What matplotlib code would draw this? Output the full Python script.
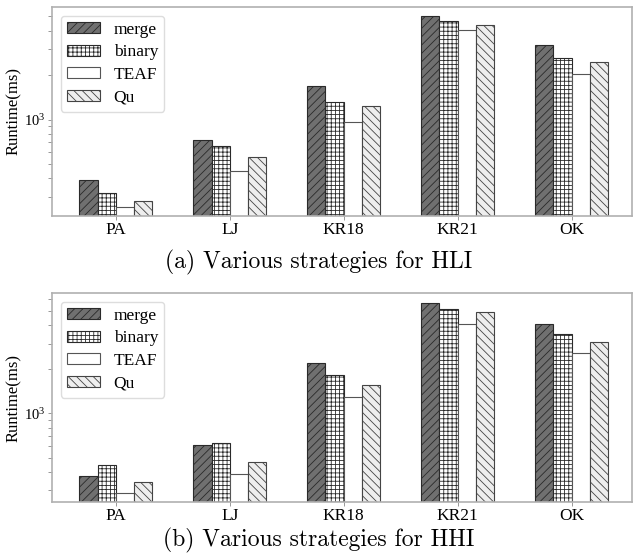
import numpy as np
import matplotlib
matplotlib.use('Agg')
from matplotlib import pyplot as plt
from matplotlib.ticker import LogLocator, NullFormatter

plt.rcParams['hatch.linewidth'] = 0.6
plt.rcParams['mathtext.fontset'] = 'custom'
plt.rcParams['mathtext.rm'] = 'Liberation Serif'

datasets = ['PA', 'LJ', 'KR18', 'KR21', 'OK']
methods = ['merge', 'binary', 'TEAF', 'Qu']

# panel (a) HLI, runtime in ms
hli_merge = [391, 728, 1676, 5020, 3220]
hli_binary = [317, 659, 1325, 4640, 2630]
hli_teaf = [256, 448, 965, 4030, 2045]
hli_qu = [281, 560, 1240, 4400, 2455]

# panel (b) HHI, runtime in ms
hhi_merge = [373, 605, 2213, 5660, 4075]
hhi_binary = [448, 625, 1834, 5155, 3485]
hhi_teaf = [287, 389, 1300, 4075, 2600]
hhi_qu = [343, 466, 1567, 4920, 3073]

captions = ['(a) Various strategies for HLI', '(b) Various strategies for HHI']

styles = [
    dict(facecolor='#707070', hatch='////', edgecolor='#2a2a2a'),
    dict(facecolor='white', hatch='++++', edgecolor='#2a2a2a'),
    dict(facecolor='white', hatch='', edgecolor='#555555'),
    dict(facecolor='#eeeeee', hatch='\\\\\\\\', edgecolor='#444444'),
]

fig = plt.figure(figsize=(6.38, 5.58), dpi=100)
ax_a = fig.add_axes([0.0815, 0.613, 0.909, 0.3745])
ax_b = fig.add_axes([0.0815, 0.100, 0.909, 0.375])

x = np.arange(len(datasets))
w = 0.16
fs = 12.5


def draw(ax, series, ylim):
    for i, vals in enumerate(series):
        st = styles[i]
        ax.bar(x + (i - 1.5) * w, vals, w, facecolor=st['facecolor'],
               hatch=st['hatch'], edgecolor=st['edgecolor'], linewidth=0.8,
               label=methods[i])
    ax.set_yscale('log')
    ax.set_ylim(ylim)
    ax.set_xlim(-0.56, 4.53)
    ax.set_xticks(x)
    ax.set_xticklabels(datasets, family='Liberation Serif', fontsize=fs)
    ax.yaxis.set_major_locator(LogLocator(base=10))
    ax.yaxis.set_minor_locator(LogLocator(base=10, subs=np.arange(2, 10)))
    ax.yaxis.set_minor_formatter(NullFormatter())
    for lab in ax.get_yticklabels():
        lab.set_family('Liberation Serif')
        lab.set_fontsize(10.5)
    ax.tick_params(axis='y', which='minor', length=3, color='#888888', width=0.6)
    ax.tick_params(axis='y', which='major', length=3, color='#888888', width=0.6, pad=2)
    ax.tick_params(axis='x', length=3, color='#888888', width=0.6, pad=1)
    for sp in ax.spines.values():
        sp.set_color('#b0b0b0')
        sp.set_linewidth(1.2)
    ax.set_ylabel('Runtime(ms)', family='Liberation Serif', fontsize=12)
    ax.yaxis.set_label_coords(-0.052, 0.5)
    ax.legend(loc='upper left', prop={'family': 'Liberation Serif', 'size': fs},
              handlelength=1.9, handleheight=0.6, handletextpad=0.8,
              labelspacing=0.38, borderpad=0.35, fancybox=True,
              edgecolor='#dddddd', framealpha=1.0, borderaxespad=0.5)


draw(ax_a, [hli_merge, hli_binary, hli_teaf, hli_qu], (222, 5800))
draw(ax_b, [hhi_merge, hhi_binary, hhi_teaf, hhi_qu], (248, 6650))

fig.text(0.5, 1 - 262 / 558, captions[0], ha='center', va='center',
         family='cmr10', fontsize=17)
fig.text(0.5, 1 - 540 / 558, captions[1], ha='center', va='center',
         family='cmr10', fontsize=17)

plt.savefig('out.png', dpi=100)
plt.close()
